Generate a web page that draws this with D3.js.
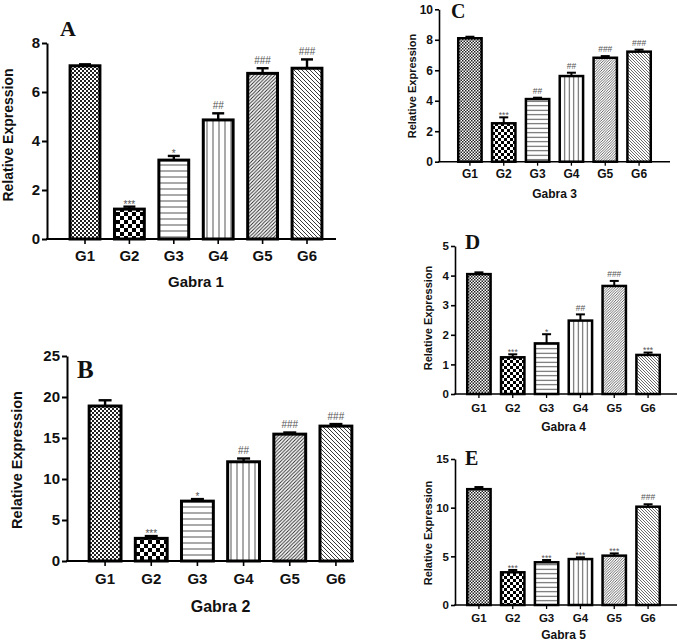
<!DOCTYPE html>
<html lang="en">
<head>
  <meta charset="UTF-8">
  <title>Gabra relative expression</title>
  <script src="https://d3js.org/d3.v7.min.js"></script>
  <style>
    body { margin: 0; background: #fff; }
    svg { display: block; }
    text { font-family: "Liberation Sans", Arial, sans-serif; font-weight: bold; fill: #111; }
    .letter { font-family: "Liberation Serif", "Times New Roman", serif; font-weight: bold; }
    .sig { font-weight: normal; fill: #555; }
  </style>
</head>
<body>
  <svg width="685" height="643"></svg>

  <script>
    // data
    const groups = ["G1", "G2", "G3", "G4", "G5", "G6"];

    const gabra1Mean = [7.07, 1.22, 3.22, 4.86, 6.76, 6.97];
    const gabra1Err  = [0.06, 0.10, 0.17, 0.27, 0.21, 0.36];
    const gabra1Sig  = ["", "***", "*", "##", "###", "###"];
    const gabra1Ticks = [0, 2, 4, 6, 8];

    const gabra2Mean = [18.9, 2.76, 7.3, 12.1, 15.47, 16.45];
    const gabra2Err  = [0.7, 0.28, 0.25, 0.4, 0.2, 0.25];
    const gabra2Sig  = ["", "***", "*", "##", "###", "###"];
    const gabra2Ticks = [0, 5, 10, 15, 20, 25];

    const gabra3Mean = [8.1, 2.52, 4.11, 5.62, 6.82, 7.22];
    const gabra3Err  = [0.1, 0.39, 0.09, 0.22, 0.11, 0.13];
    const gabra3Sig  = ["", "***", "##", "##", "###", "###"];
    const gabra3Ticks = [0, 2, 4, 6, 8, 10];

    const gabra4Mean = [4.05, 1.24, 1.71, 2.48, 3.65, 1.32];
    const gabra4Err  = [0.06, 0.10, 0.31, 0.21, 0.17, 0.08];
    const gabra4Sig  = ["", "***", "*", "##", "###", "***"];
    const gabra4Ticks = [0, 1, 2, 3, 4, 5];

    const gabra5Mean = [11.9, 3.36, 4.39, 4.72, 5.07, 10.1];
    const gabra5Err  = [0.22, 0.24, 0.23, 0.18, 0.23, 0.25];
    const gabra5Sig  = ["", "***", "***", "***", "***", "###"];
    const gabra5Ticks = [0, 5, 10, 15];

    const svg = d3.select("svg");
    const defs = svg.append("defs");

    // one set of fill patterns per panel (smaller panels get a smaller scale)
    function makePatterns(id, s) {
      const ids = [];
      const add = (name, size) => {
        const p = defs.append("pattern")
          .attr("id", `${id}-${name}`)
          .attr("patternUnits", "userSpaceOnUse")
          .attr("width", size).attr("height", size);
        p.append("rect").attr("width", size).attr("height", size).attr("fill", "#fff");
        ids.push(`url(#${id}-${name})`);
        return p;
      };
      // G1 fine checker
      let c = 2 * s;
      let p = add("fine", 2 * c);
      p.append("rect").attr("width", c).attr("height", c).attr("fill", "#222");
      p.append("rect").attr("x", c).attr("y", c).attr("width", c).attr("height", c).attr("fill", "#222");
      // G2 coarse checker
      c = 4 * s;
      p = add("coarse", 2 * c);
      p.append("rect").attr("width", c).attr("height", c).attr("fill", "#000");
      p.append("rect").attr("x", c).attr("y", c).attr("width", c).attr("height", c).attr("fill", "#000");
      // G3 horizontal lines
      c = 6 * s;
      p = add("horiz", c);
      p.append("line").attr("x1", 0).attr("x2", c).attr("y1", c / 2).attr("y2", c / 2)
        .attr("stroke", "#555").attr("stroke-width", 1);
      // G4 vertical lines
      p = add("vert", c);
      p.append("line").attr("y1", 0).attr("y2", c).attr("x1", c / 2).attr("x2", c / 2)
        .attr("stroke", "#555").attr("stroke-width", 1);
      // G5 diagonal "/"
      c = 3.5 * s;
      p = add("up", c);
      p.append("path")
        .attr("d", `M0,${c} L${c},0 M${-c / 2},${c / 2} L${c / 2},${-c / 2} M${c / 2},${1.5 * c} L${1.5 * c},${c / 2}`)
        .attr("stroke", "#222").attr("stroke-width", 0.9 * s);
      // G6 diagonal "\"
      c = 4 * s;
      p = add("down", c);
      p.append("path")
        .attr("d", `M0,0 L${c},${c} M${-c / 2},${c / 2} L${c / 2},${1.5 * c} M${c / 2},${-c / 2} L${1.5 * c},${c / 2}`)
        .attr("stroke", "#222").attr("stroke-width", 0.9 * s);
      return ids;
    }

    function drawPanel(cfg) {
      const g = svg.append("g");
      const fills = makePatterns(cfg.id, cfg.patScale);

      const x = d3.scaleBand()
        .domain(groups)
        .range([cfg.bandStart, cfg.bandEnd])
        .paddingInner(1 - cfg.barW / ((cfg.bandEnd - cfg.bandStart) / groups.length))
        .paddingOuter(0)
        .align(0.5);
      // paddingOuter 0 with paddingInner shifts bars; recentre on step centres
      const step = (cfg.bandEnd - cfg.bandStart) / groups.length;
      const cx = d => cfg.bandStart + step * (groups.indexOf(d) + 0.5);

      const y = d3.scaleLinear()
        .domain([0, d3.max(cfg.ticks)])
        .range([cfg.yBottom, cfg.yTop]);

      const rows = groups.map((k, i) => ({ k, m: cfg.mean[i], e: cfg.err[i], s: cfg.sig[i], f: fills[i] }));

      // error bars (upper only)
      const eb = g.append("g").attr("stroke", "#000").attr("stroke-width", cfg.stroke * 0.8);
      eb.selectAll("line.v").data(rows).join("line")
        .attr("x1", d => cx(d.k)).attr("x2", d => cx(d.k))
        .attr("y1", d => y(d.m)).attr("y2", d => y(d.m + d.e));
      eb.selectAll("line.c").data(rows).join("line")
        .attr("x1", d => cx(d.k) - cfg.cap / 2).attr("x2", d => cx(d.k) + cfg.cap / 2)
        .attr("y1", d => y(d.m + d.e)).attr("y2", d => y(d.m + d.e));

      // bars
      g.append("g").selectAll("rect").data(rows).join("rect")
        .attr("x", d => cx(d.k) - x.bandwidth() / 2)
        .attr("width", x.bandwidth())
        .attr("y", d => y(d.m))
        .attr("height", d => y(0) - y(d.m))
        .attr("fill", d => d.f)
        .attr("stroke", "#000")
        .attr("stroke-width", cfg.stroke);

      // significance marks
      g.append("g").selectAll("text").data(rows.filter(d => d.s)).join("text")
        .attr("class", "sig")
        .attr("x", d => cx(d.k))
        .attr("y", d => y(d.m + d.e) - (d.s[0] === "*" ? -cfg.fsSig * 0.1 : cfg.fsSig * 0.45))
        .attr("text-anchor", "middle")
        .style("font-size", cfg.fsSig + "px")
        .text(d => d.s);

      // y axis
      const ya = g.append("g")
        .attr("transform", `translate(${cfg.axisX},0)`)
        .call(d3.axisLeft(y).tickValues(cfg.ticks).tickFormat(d3.format("d"))
          .tickSize(cfg.tick).tickSizeOuter(0).tickPadding(2));
      ya.select(".domain").attr("stroke-width", cfg.axisW);
      ya.selectAll(".tick line").attr("stroke-width", cfg.axisW);
      ya.selectAll(".tick text").style("font-size", cfg.fsTick + "px").attr("fill", "#111")
        .style("font-family", null);

      // x axis: own baseline from the y axis to the right end
      g.append("line")
        .attr("x1", cfg.axisX - cfg.axisW / 2).attr("x2", cfg.axisEnd)
        .attr("y1", cfg.yBottom).attr("y2", cfg.yBottom)
        .attr("stroke", "#000").attr("stroke-width", cfg.axisW);
      g.append("g").selectAll("line").data(groups).join("line")
        .attr("x1", d => cx(d)).attr("x2", d => cx(d))
        .attr("y1", cfg.yBottom).attr("y2", cfg.yBottom + cfg.tick)
        .attr("stroke", "#000").attr("stroke-width", cfg.axisW * 0.8);
      g.append("g").selectAll("text").data(groups).join("text")
        .attr("x", d => cx(d))
        .attr("y", cfg.tickBase)
        .attr("text-anchor", "middle")
        .style("font-size", cfg.fsTick + "px")
        .text(d => d);

      // titles
      g.append("text")
        .attr("x", (cfg.bandStart + cfg.bandEnd) / 2)
        .attr("y", cfg.titleBase)
        .attr("text-anchor", "middle")
        .style("font-size", cfg.fsTitle + "px")
        .text(cfg.title);

      g.append("text")
        .attr("transform", `translate(${cfg.yLabelX},${cfg.yLabelY}) rotate(-90)`)
        .attr("text-anchor", "middle")
        .style("font-size", cfg.fsY + "px")
        .text("Relative Expression");

      g.append("text")
        .attr("class", "letter")
        .attr("x", cfg.letterX)
        .attr("y", cfg.letterY)
        .style("font-size", cfg.fsLetter + "px")
        .text(cfg.letter);
    }

    const big = { patScale: 1, stroke: 3, axisW: 2, tick: 5, fsSig: 10 };
    const small = { patScale: 0.75, stroke: 2.5, axisW: 1.6, tick: 4, fsSig: 8.5, barW: 22, cap: 9,
                    fsTick: 12, fsY: 11, fsTitle: 12, fsLetter: 21 };

    drawPanel({ ...big, id: "a", letter: "A", title: "Gabra 1",
      mean: gabra1Mean, err: gabra1Err, sig: gabra1Sig, ticks: gabra1Ticks,
      axisX: 47, bandStart: 62.8, bandEnd: 329.2, axisEnd: 336, yTop: 43, yBottom: 239,
      barW: 28, cap: 12, fsTick: 15, fsY: 14, fsTitle: 15, fsLetter: 22,
      tickBase: 261, titleBase: 287, yLabelX: 13, yLabelY: 135, letterX: 60, letterY: 36 });

    drawPanel({ ...big, id: "b", letter: "B", title: "Gabra 2",
      mean: gabra2Mean, err: gabra2Err, sig: gabra2Sig, ticks: gabra2Ticks,
      axisX: 67, bandStart: 82, bandEnd: 359, axisEnd: 354, yTop: 356, yBottom: 561,
      barW: 30, cap: 13, fsTick: 15, fsY: 14.5, fsTitle: 16, fsLetter: 25,
      tickBase: 584, titleBase: 612, yLabelX: 22, yLabelY: 460, letterX: 77, letterY: 378 });

    drawPanel({ ...small, id: "c", letter: "C", title: "Gabra 3",
      mean: gabra3Mean, err: gabra3Err, sig: gabra3Sig, ticks: gabra3Ticks,
      axisX: 439, bandStart: 453, bandEnd: 656, axisEnd: 670, yTop: 9.3, yBottom: 161.7,
      fsLetter: 20, tickBase: 178, titleBase: 198, yLabelX: 416, yLabelY: 86, letterX: 451, letterY: 18 });

    drawPanel({ ...small, id: "d", letter: "D", title: "Gabra 4",
      mean: gabra4Mean, err: gabra4Err, sig: gabra4Sig, ticks: gabra4Ticks,
      axisX: 455, bandStart: 462, bandEnd: 665, axisEnd: 677, yTop: 246, yBottom: 394,
      fsTick: 11.5, tickBase: 412, titleBase: 431, yLabelX: 432, yLabelY: 318, letterX: 465, letterY: 249 });

    drawPanel({ ...small, id: "e", letter: "E", title: "Gabra 5",
      mean: gabra5Mean, err: gabra5Err, sig: gabra5Sig, ticks: gabra5Ticks,
      axisX: 455, bandStart: 462, bandEnd: 665, axisEnd: 677, yTop: 459, yBottom: 605,
      fsTick: 11.5, fsLetter: 20, tickBase: 622, titleBase: 639, yLabelX: 432, yLabelY: 533, letterX: 465, letterY: 465 });
  </script>
</body>
</html>
